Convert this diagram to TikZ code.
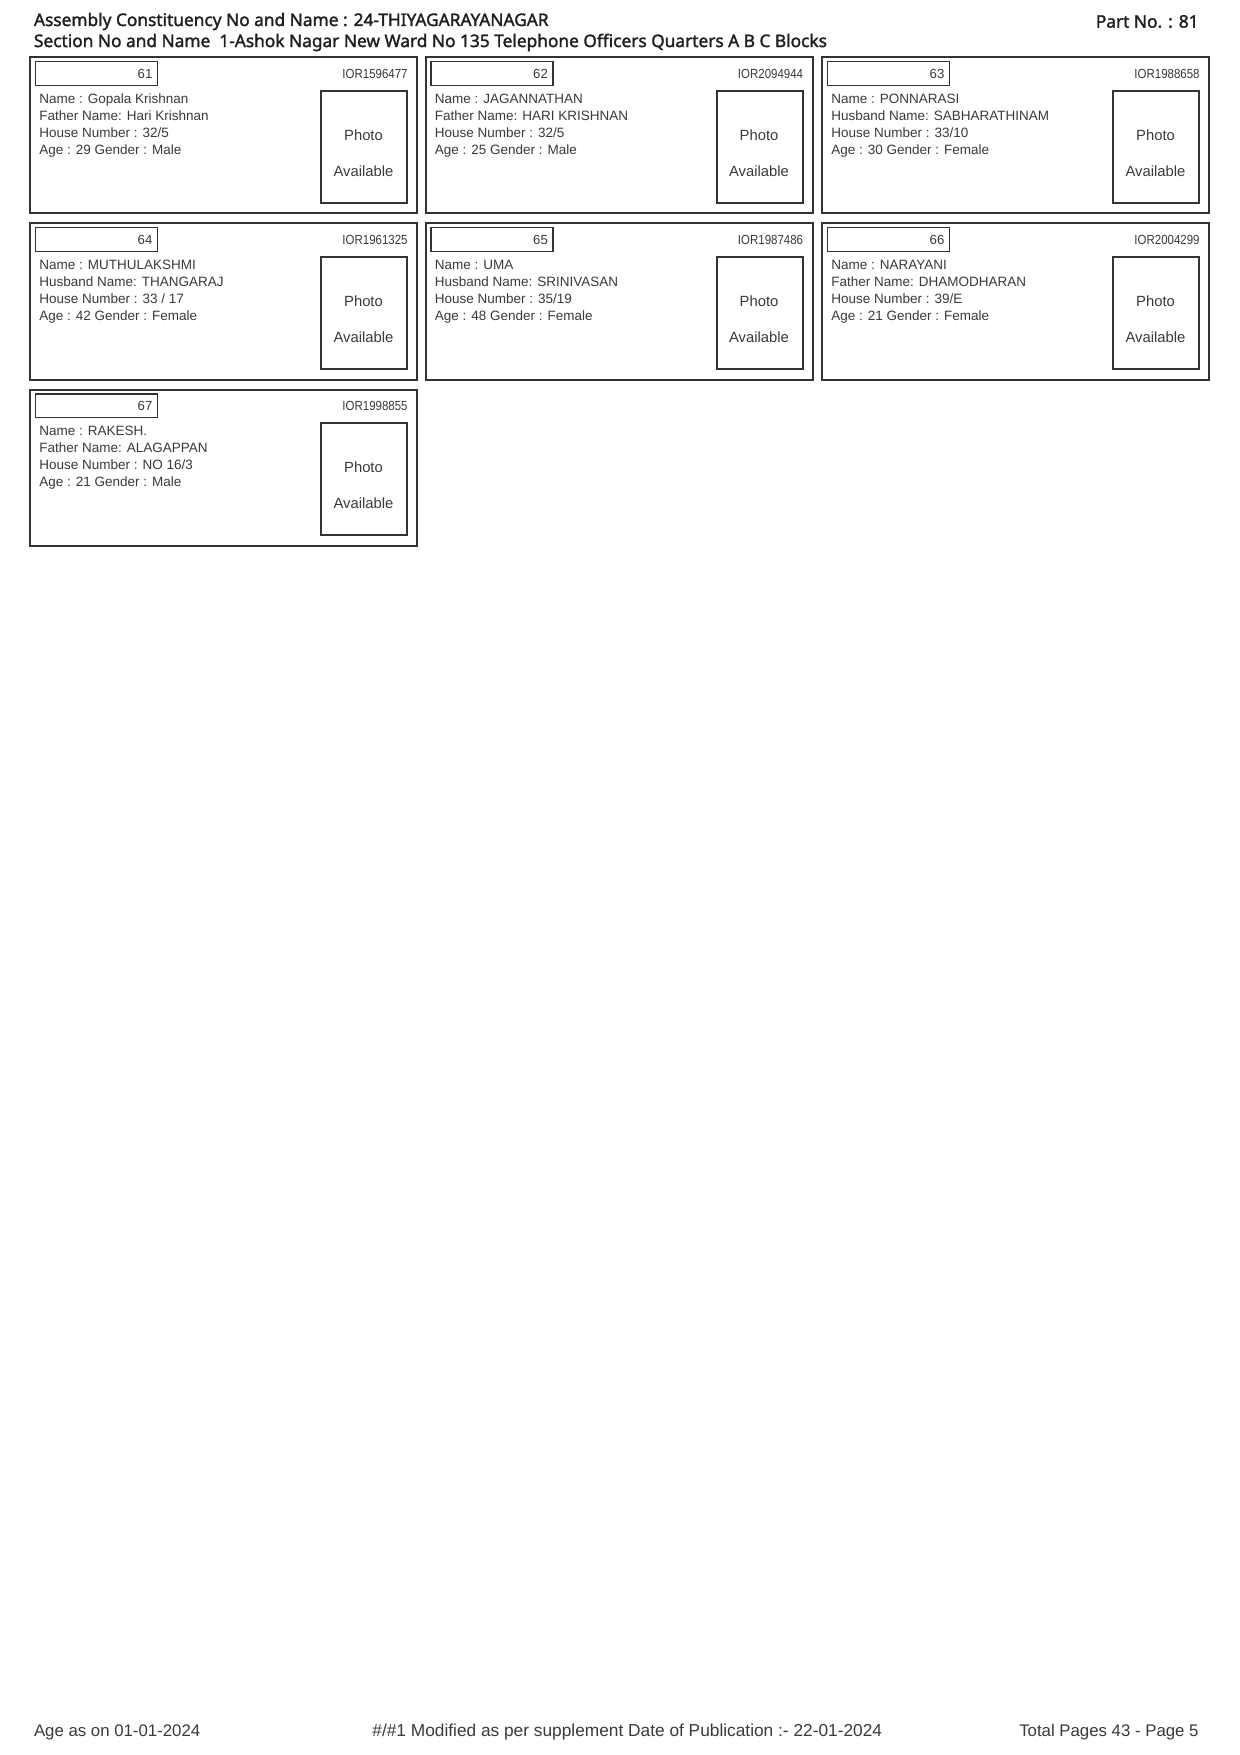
\documentclass[tikz,border=0pt]{standalone}
\usepackage{fontspec}
\setmainfont{Liberation Sans}
\newfontfamily\hdrfont{Noto Sans}[FakeBold=1.6]
\definecolor{ink}{HTML}{333333}
\definecolor{txt}{HTML}{3A3A3A}
\newcommand\cardtext{\fontsize{6.75}{8}\selectfont}
\newcommand\numtext{\fontsize{6.6}{8}\selectfont}
\newcommand\phototxt{\fontsize{7.4}{9}\selectfont}
\newcommand\foottxt{\fontsize{8.4}{10}\selectfont}
\newcommand\headtxt{\hdrfont\fontsize{8.65}{10}\selectfont}
\tikzset{
  cardbox/.style={draw=ink, line width=1pt, minimum width=193.6pt, minimum height=78pt, anchor=north west, inner sep=0pt},
  numbox/.style={draw=ink, line width=0.7pt, minimum width=61pt, minimum height=11.75pt, anchor=north west, inner xsep=2.5pt, inner ysep=0pt, text width=56pt, align=right, font=\numtext, text=txt},
  idtext/.style={anchor=east, inner sep=0pt, font=\numtext, text=txt},
  cardline/.style={anchor=base west, inner sep=0pt, font=\cardtext, text=txt},
  photobox/.style={draw=ink, line width=1pt, minimum width=43.15pt, minimum height=56pt, anchor=north west, inner sep=0pt},
  phototext/.style={anchor=center, inner sep=0pt, font=\phototxt, text=txt},
  headline/.style={inner sep=0pt, font=\headtxt, text=black!88},
  footline/.style={inner sep=0pt, font=\foottxt, text=txt}
}
\newcommand\vcard[8]{%
  \begin{scope}[shift={(#1,#2)}]
    \node[cardbox] (card#3) at (0,0) {};
    \node[numbox] (num#3) at (5.7,4.6) {#3};
    \node[idtext] (id#3) at (379,17) {\scalebox{0.87}[1]{#4}};
    \node[cardline] (la#3) at (10,47.2) {#5};
    \node[cardline] (lb#3) at (10,64) {#6};
    \node[cardline] (lc#3) at (10,80.8) {#7};
    \node[cardline] (ld#3) at (10,97.6) {#8};
    \node[photobox] (ph#3) at (291,33.6) {};
    \node[phototext] (pa#3) at (334.5,78.4) {Photo};
    \node[phototext] (pb#3) at (334.5,114.3) {Available};
  \end{scope}}
\begin{document}
\begin{tikzpicture}[x=0.5pt,y=-0.5pt]
  \fill[white] (0,0) rectangle (1240,1755);
  \useasboundingbox (0,0) rectangle (1240,1755);
  % header
  \node[headline, anchor=west] (h1) at (33.6,21.5) {Assembly Constituency No and Name : 24-THIYAGARAYANAGAR};
  \node[headline, anchor=west] (h2) at (33.6,42.5) {Section No and Name\ \ 1-Ashok Nagar New Ward No 135 Telephone Officers Quarters A B C Blocks};
  \node[headline, anchor=east] (h3) at (1199,21.5) {Part No. : 81};
  % cards
  \vcard{29}{56.5}{61}{IOR1596477}{Name : Gopala Krishnan}{Father Name: Hari Krishnan}{House Number : 32/5}{Age : 29 Gender : Male}
  \vcard{424.5}{56.5}{62}{IOR2094944}{Name : JAGANNATHAN}{Father Name: HARI KRISHNAN}{House Number : 32/5}{Age : 25 Gender : Male}
  \vcard{821}{56.5}{63}{IOR1988658}{Name : PONNARASI}{Husband Name: SABHARATHINAM}{House Number : 33/10}{Age : 30 Gender : Female}
  \vcard{29}{222.5}{64}{IOR1961325}{Name : MUTHULAKSHMI}{Husband Name: THANGARAJ}{House Number : 33 / 17}{Age : 42 Gender : Female}
  \vcard{424.5}{222.5}{65}{IOR1987486}{Name : UMA}{Husband Name: SRINIVASAN}{House Number : 35/19}{Age : 48 Gender : Female}
  \vcard{821}{222.5}{66}{IOR2004299}{Name : NARAYANI}{Father Name: DHAMODHARAN}{House Number : 39/E}{Age : 21 Gender : Female}
  \vcard{29}{388.5}{67}{IOR1998855}{Name : RAKESH.}{Father Name: ALAGAPPAN}{House Number : NO 16/3}{Age : 21 Gender : Male}
  % footer
  \node[footline, anchor=west] (f1) at (33.6,1732) {Age as on 01-01-2024};
  \node[footline, anchor=west, font=\fontsize{8.65}{10}\selectfont] (f2) at (372,1732) {\#/\#1 Modified as per supplement Date of Publication :- 22-01-2024};
  \node[footline, anchor=east] (f3) at (1199,1732) {Total Pages 43 - Page 5};
\end{tikzpicture}
\end{document}
